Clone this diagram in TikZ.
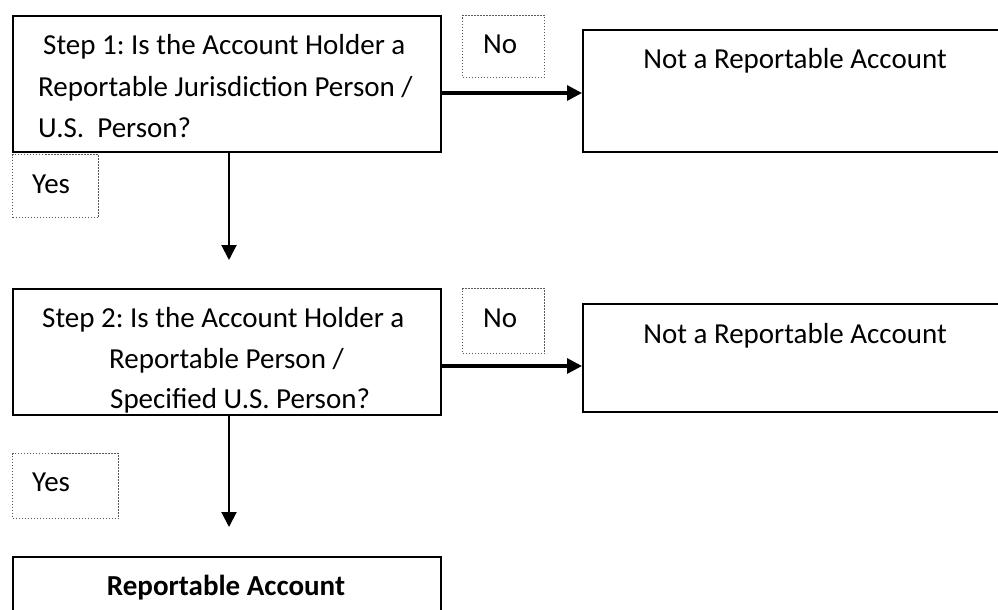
\documentclass[tikz,border=0pt]{standalone}
\usepackage{fontspec}
\setmainfont{Carlito}
\usetikzlibrary{arrows.meta}
\frenchspacing
\begin{document}
\begin{tikzpicture}[x=1pt,y=-1pt,
  box/.style={draw=black, line width=2pt, rectangle, inner sep=0pt, anchor=north west},
  tagbox/.style={draw=black!65, line width=1pt, dash pattern=on 1.5pt off 1.5pt, rectangle, inner sep=0pt, anchor=north west},
  txt/.style={font=\fontsize{29}{35}\selectfont, inner sep=0pt, anchor=base west},
  ctxt/.style={txt, anchor=base},
  flow/.style={-{Triangle[length=15pt,width=15pt]}, line width=2pt},
  flowh/.style={flow, line width=3.2pt}]
\useasboundingbox (0,0) rectangle (998,610);
\fill[white] (0,0) rectangle (998,610);

% boxes
\node[box, minimum width=428pt, minimum height=136pt] (b1) at (12,15) {};
\node[tagbox, minimum width=82pt, minimum height=62pt] (n1) at (462,15) {};
\node[box, minimum width=428pt, minimum height=122pt] (nr1) at (582,29) {};
\node[tagbox, minimum width=86pt, minimum height=63pt] (y1) at (12,154) {};
\node[box, minimum width=428pt, minimum height=126pt] (b2) at (12,288) {};
\node[tagbox, minimum width=82pt, minimum height=65pt] (n2) at (462,288) {};
\node[box, minimum width=428pt, minimum height=108pt] (nr2) at (582,303) {};
\node[tagbox, minimum width=106pt, minimum height=65pt] (y2) at (12,453) {};
\node[box, minimum width=428pt, minimum height=80pt] (rep) at (12,556) {};

% texts
\node[txt] (b1a) at (43,55) {Step 1: Is the Account Holder a};
\node[txt] (b1b) at (38,96) {Reportable Jurisdiction Person /};
\node[txt] (b1c) at (38,137) {U.S.\ \ Person?};
\node[txt] (n1t) at (483,53) {No};
\node[ctxt] (nr1t) at (795,68) {Not a Reportable Account};
\node[txt] (y1t) at (32,193) {Yes};
\node[txt] (b2a) at (42,327) {Step 2: Is the Account Holder a};
\node[txt] (b2b) at (109,368) {Reportable Person /};
\node[txt] (b2c) at (110,408) {Specified U.S. Person?};
\node[txt] (n2t) at (483,327) {No};
\node[ctxt] (nr2t) at (795,343) {Not a Reportable Account};
\node[txt] (y2t) at (32,491) {Yes};
\node[ctxt, font=\fontsize{29}{35}\selectfont\bfseries] (rept) at (226,595) {Reportable Account};

% connectors
\coordinate (h1) at (0,93);
\coordinate (h2) at (0,366);
\coordinate (v1) at (229,260);
\coordinate (v2) at (229,527);
\draw[flowh] (b1.east |- h1) -- (nr1.west |- h1);
\draw[flowh] (b2.east |- h2) -- (nr2.west |- h2);
\draw[flow] (b1.south -| v1) -- (v1);
\draw[flow] (b2.south -| v2) -- (v2);
\end{tikzpicture}
\end{document}
